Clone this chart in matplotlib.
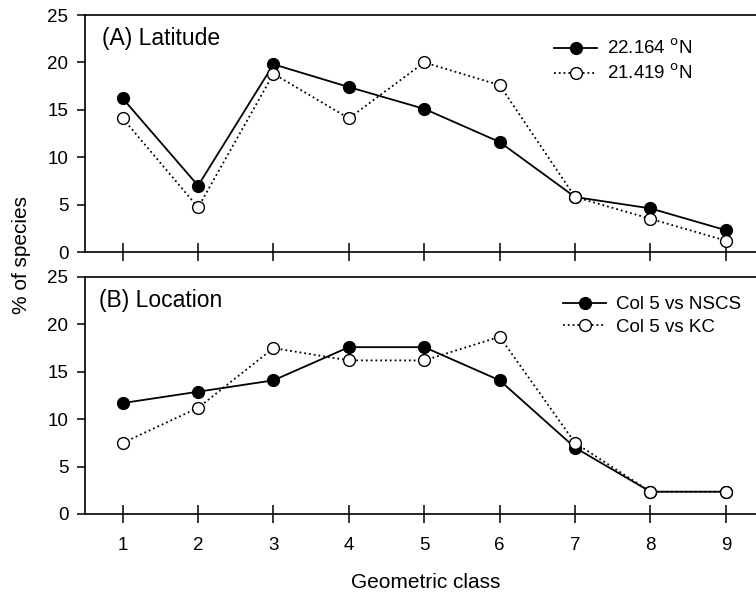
import matplotlib
matplotlib.use('Agg')
import matplotlib.pyplot as plt

plt.rcParams['font.family'] = ['Liberation Sans', 'DejaVu Sans']

classes = [1, 2, 3, 4, 5, 6, 7, 8, 9]

# (A) Latitude
lat_22164 = [16.2, 7.0, 19.8, 17.4, 15.1, 11.6, 5.8, 4.6, 2.3]
lat_21419 = [14.1, 4.7, 18.8, 14.1, 20.0, 17.6, 5.8, 3.5, 1.2]

# (B) Location
col5_nscs = [11.7, 12.9, 14.1, 17.6, 17.6, 14.1, 7.0, 2.35, 2.35]
col5_kc = [7.5, 11.2, 17.5, 16.2, 16.2, 18.7, 7.5, 2.35, 2.35]

W, H = 756, 594
panels = [
    ('(A) Latitude', lat_22164, lat_21419, '22.164 $^{\\mathrm{o}}$N', '21.419 $^{\\mathrm{o}}$N',
     (15, 252), (102, 38), (554, 39)),
    ('(B) Location', col5_nscs, col5_kc, 'Col 5 vs NSCS', 'Col 5 vs KC',
     (277, 514), (99, 300), (563, 296)),
]

fig = plt.figure(figsize=(7.56, 5.94), dpi=100)
left = 85 / W

for i, (title, solid, dotted, lab1, lab2, (top, bot), tpos, lpos) in enumerate(panels):
    ax = fig.add_axes((left, 1 - bot / H, 1 - left, (bot - top) / H))
    ax.plot(classes, solid, '-', color='black', lw=1.3, marker='o', ms=8.5,
            mfc='black', mec='black', label=lab1, zorder=3)
    ax.plot(classes, dotted, ':', color='black', lw=1.3, marker='o', ms=8.5,
            mfc='white', mec='black', mew=1.0, label=lab2, zorder=4)
    ax.set_xlim(0.5, 9.4)
    ax.set_ylim(0, 25)
    ax.set_yticks([0, 5, 10, 15, 20, 25])
    ax.set_xticks(classes)
    ax.spines['right'].set_visible(False)
    for s in ['left', 'top', 'bottom']:
        ax.spines[s].set_linewidth(1.2)
    ax.tick_params(axis='y', direction='out', length=6, width=1.1, labelsize=13.5, pad=6)
    ax.tick_params(axis='x', direction='inout', length=13, width=1.1, labelsize=13.5, pad=10)
    ax.text(tpos[0] / W, 1 - tpos[1] / H, title, transform=fig.transFigure,
            fontsize=16.5, va='center', ha='left')
    ax.legend(loc='upper left', bbox_to_anchor=(lpos[0] / W, 1 - lpos[1] / H),
              bbox_transform=fig.transFigure, frameon=False, borderpad=0, borderaxespad=0,
              fontsize=13.5, handlelength=2.3, handletextpad=0.55, labelspacing=0.3)
    if i == 0:
        ax.tick_params(axis='x', labelbottom=False)

fig.text(22 / W, 1 - 255 / H, '% of species', rotation=90, ha='center', va='center', fontsize=15)
fig.text(426 / W, 1 - 582 / H, 'Geometric class', ha='center', va='center', fontsize=15)

fig.savefig('out.png', dpi=100)
